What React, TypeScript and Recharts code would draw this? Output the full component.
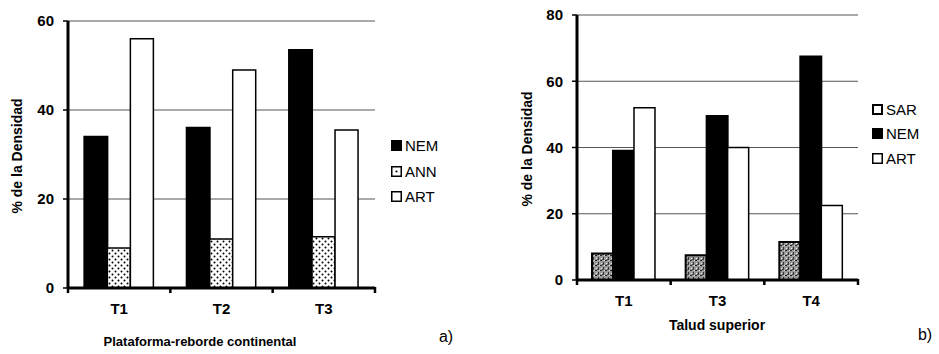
import React from "react";
import { BarChart, Bar, XAxis, YAxis, CartesianGrid } from "recharts";

// Panel a) Plataforma-reborde continental
const catsA = ["T1", "T2", "T3"];
const nemA = [34, 36, 53.5];
const annA = [9, 11, 11.5];
const artA = [56, 49, 35.5];
const ticksA = [0, 20, 40, 60];

// Panel b) Talud superior
const catsB = ["T1", "T3", "T4"];
const sarB = [8, 7.5, 11.5];
const nemB = [39, 49.5, 67.5];
const artB = [52, 40, 22.5];
const ticksB = [0, 20, 40, 60, 80];

const dataA = catsA.map((c, i) => ({ cat: c, NEM: nemA[i], ANN: annA[i], ART: artA[i] }));
const dataB = catsB.map((c, i) => ({ cat: c, SAR: sarB[i], NEM: nemB[i], ART: artB[i] }));

const FONT = "'Liberation Sans', Arial, sans-serif";

const Patterns = () => (
  <svg width={0} height={0} style={{ position: "absolute" }}>
    <defs>
      <pattern id="dots" width={6} height={6} patternUnits="userSpaceOnUse">
        <rect width={6} height={6} fill="#fff" />
        <circle cx={1.5} cy={1.5} r={1} fill="#000" />
        <circle cx={4.5} cy={4.5} r={1} fill="#000" />
      </pattern>
      <pattern id="noise" width={5} height={5} patternUnits="userSpaceOnUse">
        <rect width={5} height={5} fill="#9a9a9a" />
        <rect x={0} y={0} width={2} height={1} fill="#222" />
        <rect x={3} y={2} width={1} height={2} fill="#333" />
        <rect x={1} y={3} width={1} height={1} fill="#eee" />
        <rect x={4} y={0} width={1} height={1} fill="#ddd" />
        <rect x={2} y={4} width={2} height={1} fill="#444" />
      </pattern>
    </defs>
  </svg>
);

const fills: Record<string, { fill: string; stroke: string; sw: number }> = {
  NEM: { fill: "#000", stroke: "#000", sw: 2 },
  ANN: { fill: "url(#dots)", stroke: "#000", sw: 1.5 },
  ART: { fill: "#fff", stroke: "#000", sw: 1.5 },
  SAR: { fill: "url(#noise)", stroke: "#000", sw: 2 },
};

const legendMarker = (key: string) => {
  if (key === "ANN")
    return (
      <svg width={11} height={11} style={{ marginRight: 3 }}>
        <rect x={0.75} y={0.75} width={9.5} height={9.5} fill="#fff" stroke="#000" strokeWidth={1.5} />
        <circle cx={5.5} cy={5.5} r={1.1} fill="#000" />
      </svg>
    );
  if (key === "SAR")
    return (
      <svg width={11} height={11} style={{ marginRight: 3 }}>
        <rect x={1} y={1} width={9} height={9} fill="#fff" stroke="#000" strokeWidth={2} />
      </svg>
    );
  return (
    <svg width={11} height={11} style={{ marginRight: 3 }}>
      <rect x={0.75} y={0.75} width={9.5} height={9.5} fill={key === "NEM" ? "#000" : "#fff"} stroke="#000" strokeWidth={1.5} />
    </svg>
  );
};

function LegendBox({ keys, gap, left, top }: { keys: string[]; gap: number; left: number; top: number }) {
  return (
    <div style={{ position: "absolute", left, top, fontFamily: FONT, fontSize: 15, color: "#000" }}>
      {keys.map((k) => (
        <div key={k} style={{ display: "flex", alignItems: "center", height: gap }}>
          {legendMarker(k)}
          <span>{k}</span>
        </div>
      ))}
    </div>
  );
}

const tickStyle = { fontFamily: FONT, fontSize: 15, fontWeight: 700, fill: "#000" };

// category label plus small marks at the band boundaries (as in Excel-style axes)
const CatTick = (props: any) => {
  const { x, y, payload, index, visibleTicksCount } = props;
  const half = payload && typeof payload.offset === "number" ? payload.offset : 0;
  const last = index === (visibleTicksCount ?? 0) - 1;
  return (
    <g>
      {half > 0 && <line x1={x - half} x2={x - half} y1={y - 1} y2={y + 5} stroke="#000" strokeWidth={2.5} />}
      {half > 0 && last && <line x1={x + half} x2={x + half} y1={y - 1} y2={y + 5} stroke="#000" strokeWidth={2.5} />}
      <text x={x} y={y + 15} dy="0.71em" textAnchor="middle" {...tickStyle}>
        {payload.value}
      </text>
    </g>
  );
};

function Panel(props: {
  data: any[];
  keys: string[];
  width: number;
  top: number;
  right: number;
  yWidth: number;
  bottom: number;
  domainMax: number;
  ticks: number[];
  gapPct: string;
}) {
  const p = props;
  return (
    <BarChart
      width={p.width}
      height={354}
      data={p.data}
      margin={{ top: p.top, right: p.right, left: 0, bottom: p.bottom }}
      barCategoryGap={p.gapPct}
      barGap={0}
    >
      <CartesianGrid horizontal vertical={false} stroke="#555" strokeWidth={1} />
      <XAxis
        dataKey="cat"
        height={30}
        interval={0}
        axisLine={{ stroke: "#000", strokeWidth: 3 }}
        tickLine={false}
        tickSize={0}
        tickMargin={0}
        tick={<CatTick />}
      />
      <YAxis
        width={p.yWidth}
        domain={[0, p.domainMax]}
        ticks={p.ticks}
        interval={0}
        axisLine={{ stroke: "#000", strokeWidth: 3 }}
        tickLine={{ stroke: "#000", strokeWidth: 1.5 }}
        tickSize={5}
        tickMargin={9}
        tick={tickStyle}
      />
      {p.keys.map((k) => (
        <Bar
          key={k}
          dataKey={k}
          fill={fills[k].fill}
          stroke={fills[k].stroke}
          strokeWidth={fills[k].sw}
          isAnimationActive={false}
        />
      ))}
    </BarChart>
  );
}

const abs = (s: React.CSSProperties): React.CSSProperties => ({ position: "absolute", fontFamily: FONT, color: "#000", whiteSpace: "nowrap", ...s });

export default function App() {
  return (
    <div style={{ position: "relative", width: 939, height: 354, background: "#fff", overflow: "hidden" }}>
      <style>{`body{margin:0}`}</style>
      <Patterns />
      <div style={{ position: "absolute", left: 0, top: 0 }}>
        <Panel
          data={dataA}
          keys={["NEM", "ANN", "ART"]}
          width={470}
          top={21}
          right={95}
          yWidth={68}
          bottom={36}
          domainMax={60}
          ticks={ticksA}
          gapPct="16%"
        />
      </div>
      <div style={{ position: "absolute", left: 470, top: 0 }}>
        <Panel
          data={dataB}
          keys={["SAR", "NEM", "ART"]}
          width={469}
          top={15}
          right={81}
          yWidth={107}
          bottom={44}
          domainMax={80}
          ticks={ticksB}
          gapPct="16%"
        />
      </div>
      <LegendBox keys={["NEM", "ANN", "ART"]} gap={25.5} left={391} top={133} />
      <LegendBox keys={["SAR", "NEM", "ART"]} gap={24.5} left={872} top={97} />
      {/* axis titles and panel letters */}
      <div style={abs({ left: 17, top: 156, fontSize: 14, fontWeight: 700, transform: "translate(-50%,-50%) rotate(-90deg)" })}>
        % de la Densidad
      </div>
      <div style={abs({ left: 200, top: 341, fontSize: 13, fontWeight: 700, transform: "translate(-50%,-50%)" })}>
        Plataforma-reborde continental
      </div>
      <div style={abs({ left: 446, top: 337, fontSize: 16, transform: "translate(-50%,-50%)" })}>a)</div>
      <div style={abs({ left: 527, top: 149, fontSize: 14, fontWeight: 700, transform: "translate(-50%,-50%) rotate(-90deg)" })}>
        % de la Densidad
      </div>
      <div style={abs({ left: 717, top: 325, fontSize: 14, fontWeight: 700, transform: "translate(-50%,-50%)" })}>
        Talud superior
      </div>
      <div style={abs({ left: 925, top: 335, fontSize: 16, transform: "translate(-50%,-50%)" })}>b)</div>
    </div>
  );
}
